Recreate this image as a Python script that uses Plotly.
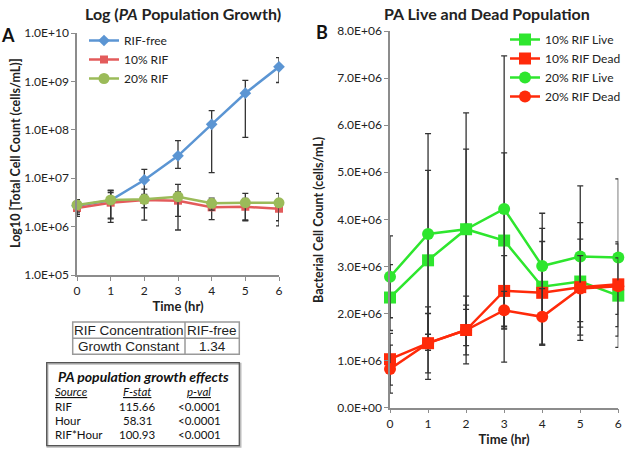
import plotly.graph_objects as go

W, H = 629, 451

# ---------------- data ----------------
hours = [0, 1, 2, 3, 4, 5, 6]

# Panel A (log scale)
a_rif_free = [2.7e6, 3.5e6, 9.2e6, 2.9e7, 1.3e8, 5.7e8, 2.0e9]
a_rif_free_err_plus = [0.9e6, 2.0e6, 6.0e6, 3.1e7, 1.2e8, 4.8e8, 1.1e9]
a_rif_free_err_minus = [0.9e6, 2.0e6, 6.0e6, 1.3e7, 1.17e8, 5.0e8, 1.05e9]
a_rif10 = [2.42e6, 3.12e6, 3.55e6, 3.43e6, 2.5e6, 2.57e6, 2.34e6]
a_rif10_err = [0.8e6, 1.9e6, 1.1e6, 1.8e6, 1.1e6, 1.25e6, 1.3e6]
a_rif20 = [2.8e6, 3.55e6, 3.66e6, 4.15e6, 3.03e6, 3.12e6, 3.1e6]
a_rif20_err = [0.8e6, 2.1e6, 2.3e6, 3.3e6, 0.85e6, 1.75e6, 1.78e6]

a_ytick_vals = [1e5, 1e6, 1e7, 1e8, 1e9, 1e10]
a_ytick_text = ["1.0E+05", "1.0E+06", "1.0E+07", "1.0E+08", "1.0E+09", "1.0E+10"]

# Panel B (linear)
b_live10 = [2.34e6, 3.13e6, 3.79e6, 3.55e6, 2.57e6, 2.68e6, 2.38e6]
b_live10_err = [0.7e6, 1.91e6, 1.7e6, 1.86e6, 1.24e6, 1.25e6, 1.1e6]
b_dead10 = [1.03e6, 1.37e6, 1.65e6, 2.48e6, 2.44e6, 2.56e6, 2.62e6]
b_dead10_err = [0.55e6, 0.63e6, 0.72e6, 0.75e6, 1.09e6, 1.02e6, 0.9e6]
b_live20 = [2.78e6, 3.69e6, 3.79e6, 4.22e6, 3.01e6, 3.21e6, 3.19e6]
b_live20_err = [0.87e6, 2.13e6, 2.47e6, 3.25e6, 1.12e6, 1.5e6, 1.67e6]
b_dead20 = [0.82e6, 1.37e6, 1.65e6, 2.07e6, 1.93e6, 2.53e6, 2.58e6]
b_dead20_err = [0.51e6, 0.77e6, 0.53e6, 0.4e6, 0.6e6, 0.7e6, 0.6e6]

b_ytick_vals = [0, 1e6, 2e6, 3e6, 4e6, 5e6, 6e6, 7e6, 8e6]
b_ytick_text = ["0.0E+00", "1.0E+06", "2.0E+06", "3.0E+06", "4.0E+06",
                "5.0E+06", "6.0E+06", "7.0E+06", "8.0E+06"]

# Tables
table1_rows = [["RIF Concentration", "RIF-free"], ["Growth Constant", "1.34"]]
table2_title = "PA population growth effects"
table2_header = ["Source", "F-stat", "p-val"]
table2_rows = [["RIF", "115.66", "<0.0001"],
               ["Hour", "58.31", "<0.0001"],
               ["RIF*Hour", "100.93", "<0.0001"]]

# ---------------- helpers (window pixels -> paper fraction) ----------------
def px(x):
    return x / W

def py(y):
    return 1 - y / H

FONT = "Lato, Carlito, 'Open Sans', sans-serif"
ERR = "#333333"
AX = "#8c8c8c"

c_blue = "#5b95d3"
c_red = "#e35b5b"
c_olive = "#9bbb59"
c_green = "#2ee62e"
c_rred = "#ff2a0a"

fig = go.Figure()

def err(arr, minus=None, w=3):
    d = dict(type="data", array=arr, color=ERR, thickness=1.3, width=w, visible=True)
    if minus is not None:
        d["arrayminus"] = minus
        d["symmetric"] = False
    return d

# Panel A traces
fig.add_trace(go.Scatter(x=hours, y=a_rif_free, name="RIF-free", mode="lines+markers",
                         line=dict(color=c_blue, width=2.5),
                         marker=dict(symbol="diamond", size=9, color=c_blue),
                         error_y=err(a_rif_free_err_plus, a_rif_free_err_minus),
                         xaxis="x", yaxis="y", legend="legend", cliponaxis=False))
fig.add_trace(go.Scatter(x=hours, y=a_rif10, name="10% RIF", mode="lines+markers",
                         line=dict(color=c_red, width=2.5),
                         marker=dict(symbol="square", size=8, color=c_red),
                         error_y=err(a_rif10_err),
                         xaxis="x", yaxis="y", legend="legend", cliponaxis=False))
fig.add_trace(go.Scatter(x=hours, y=a_rif20, name="20% RIF", mode="lines+markers",
                         line=dict(color=c_olive, width=2.5),
                         marker=dict(symbol="circle", size=11, color=c_olive),
                         error_y=err(a_rif20_err),
                         xaxis="x", yaxis="y", legend="legend", cliponaxis=False))

# Panel B traces
for name, vals, e, col, sym in [
    ("10% RIF Live", b_live10, b_live10_err, c_green, "square"),
    ("10% RIF Dead", b_dead10, b_dead10_err, c_rred, "square"),
    ("20% RIF Live", b_live20, b_live20_err, c_green, "circle"),
    ("20% RIF Dead", b_dead20, b_dead20_err, c_rred, "circle"),
]:
    fig.add_trace(go.Scatter(x=hours, y=vals, name=name, mode="lines+markers",
                             line=dict(color=col, width=2.5),
                             marker=dict(symbol=sym, size=12, color=col),
                             error_y=err(e, w=3),
                             xaxis="x2", yaxis="y2", legend="legend2", cliponaxis=False))

axis_common = dict(showgrid=False, zeroline=False, showline=True, linecolor=AX, linewidth=1.5,
                   ticks="outside", ticklen=4, tickcolor=AX, tickwidth=1.2, automargin=False,
                   tickfont=dict(family=FONT, size=12, color="#222"))

fig.update_layout(
    width=W, height=H,
    margin=dict(l=0, r=0, t=0, b=0, autoexpand=False),
    paper_bgcolor="white", plot_bgcolor="white",
    showlegend=True,
    xaxis=dict(domain=[px(77), px(279)], range=[0, 6], anchor="y",
               tickvals=hours, **axis_common,
               title=dict(text="<b>Time (hr)</b>", font=dict(family=FONT, size=13, color="#222"),
                          standoff=2)),
    yaxis=dict(domain=[py(275), py(33)], type="log", range=[5, 10], anchor="x",
               tickvals=a_ytick_vals, ticktext=a_ytick_text, **axis_common),
    xaxis2=dict(domain=[px(390), px(618.3)], range=[0, 6], anchor="y2",
                tickvals=hours, **axis_common,
                title=dict(text="<b>Time (hr)</b>", font=dict(family=FONT, size=13, color="#222"),
                           standoff=2)),
    yaxis2=dict(domain=[py(407.7), py(31)], range=[0, 8e6], anchor="x2",
                tickvals=b_ytick_vals, ticktext=b_ytick_text, **axis_common),
    legend=dict(x=px(84), y=py(26), xanchor="left", yanchor="top",
                bgcolor="rgba(0,0,0,0)", font=dict(family=FONT, size=12, color="#222"),
                tracegroupgap=0, itemwidth=30),
    legend2=dict(x=px(505), y=py(25), xanchor="left", yanchor="top",
                 bgcolor="rgba(0,0,0,0)", font=dict(family=FONT, size=12, color="#222"),
                 tracegroupgap=0, itemwidth=30),
)

ann = []
# titles
ann.append(dict(x=px(183), y=py(13.5), text="<b>Log (<i>PA</i> Population Growth)</b>",
                font=dict(family=FONT, size=16, color="#222")))
ann.append(dict(x=px(487), y=py(13.5), text="<b>PA Live and Dead Population</b>",
                font=dict(family=FONT, size=16, color="#222")))
ann.append(dict(x=px(8), y=py(35), text="<b>A</b>", font=dict(family=FONT, size=18, color="#111")))
ann.append(dict(x=px(322), y=py(32), text="<b>B</b>", font=dict(family=FONT, size=18, color="#111")))
# y-axis titles
ann.append(dict(x=px(15), y=py(153), text="<b>Log10 [Total Cell Count (cells/mL)]</b>",
                textangle=-90, font=dict(family=FONT, size=12.5, color="#222")))
ann.append(dict(x=px(318), y=py(220), text="<b>Bacterial Cell Count (cells/mL)</b>",
                textangle=-90, font=dict(family=FONT, size=12.5, color="#222")))

shapes = []
# Table 1
t1x0, t1x1, t1xm = 72.7, 239.3, 185
t1y0, t1y1, t1ym = 322, 354.3, 338.3
tc = "#9a9a9a"
shapes.append(dict(type="rect", xref="paper", yref="paper", x0=px(t1x0), x1=px(t1x1),
                   y0=py(t1y0), y1=py(t1y1), line=dict(color=tc, width=1.5)))
shapes.append(dict(type="line", xref="paper", yref="paper", x0=px(t1xm), x1=px(t1xm),
                   y0=py(t1y0), y1=py(t1y1), line=dict(color=tc, width=1.5)))
shapes.append(dict(type="line", xref="paper", yref="paper", x0=px(t1x0), x1=px(t1x1),
                   y0=py(t1ym), y1=py(t1ym), line=dict(color=tc, width=1.5)))
tfont = dict(family="Liberation Sans, Arial, sans-serif", size=13.5, color="#222")
for r, ycen in zip(table1_rows, [330.2, 346.5]):
    ann.append(dict(x=px((t1x0 + t1xm) / 2), y=py(ycen), text=r[0], font=tfont))
    ann.append(dict(x=px((t1xm + t1x1) / 2), y=py(ycen), text=r[1], font=tfont))

# Table 2
shapes.append(dict(type="rect", xref="paper", yref="paper", x0=px(47.5), x1=px(240.5),
                   y0=py(363.7), y1=py(446.7), line=dict(color="#bbbbbb", width=2)))
shapes.append(dict(type="rect", xref="paper", yref="paper", x0=px(46.7), x1=px(239.3),
                   y0=py(362.7), y1=py(445.7), line=dict(color="#555555", width=1.3)))
ann.append(dict(x=px(143), y=py(376.7), text="<b><i>" + table2_title + "</i></b>",
                font=dict(family=FONT, size=14, color="#111")))
hfont = dict(family=FONT, size=11.5, color="#111")
ann.append(dict(x=px(53), y=py(391.7), xanchor="left",
                text="<i><u>" + table2_header[0] + "</u></i>", font=hfont))
ann.append(dict(x=px(137), y=py(391.7), text="<i><u>" + table2_header[1] + "</u></i>", font=hfont))
ann.append(dict(x=px(199), y=py(391.7), text="<i><u>" + table2_header[2] + "</u></i>", font=hfont))
for r, ycen in zip(table2_rows, [406.7, 420.5, 434.7]):
    ann.append(dict(x=px(53), y=py(ycen), xanchor="left", text=r[0], font=hfont))
    ann.append(dict(x=px(137), y=py(ycen), text=r[1], font=hfont))
    ann.append(dict(x=px(199), y=py(ycen), text=r[2], font=hfont))

for a in ann:
    a.setdefault("xref", "paper")
    a.setdefault("yref", "paper")
    a.setdefault("showarrow", False)
    a.setdefault("xanchor", "center")
    a.setdefault("yanchor", "middle")

fig.update_layout(annotations=ann, shapes=shapes)

# remove the page's default 8px body margin so the figure fills the window exactly
fig.write_html("out.html",
               config={"displayModeBar": False},
               post_script="document.body.style.margin='0';document.body.style.overflow='hidden';")
